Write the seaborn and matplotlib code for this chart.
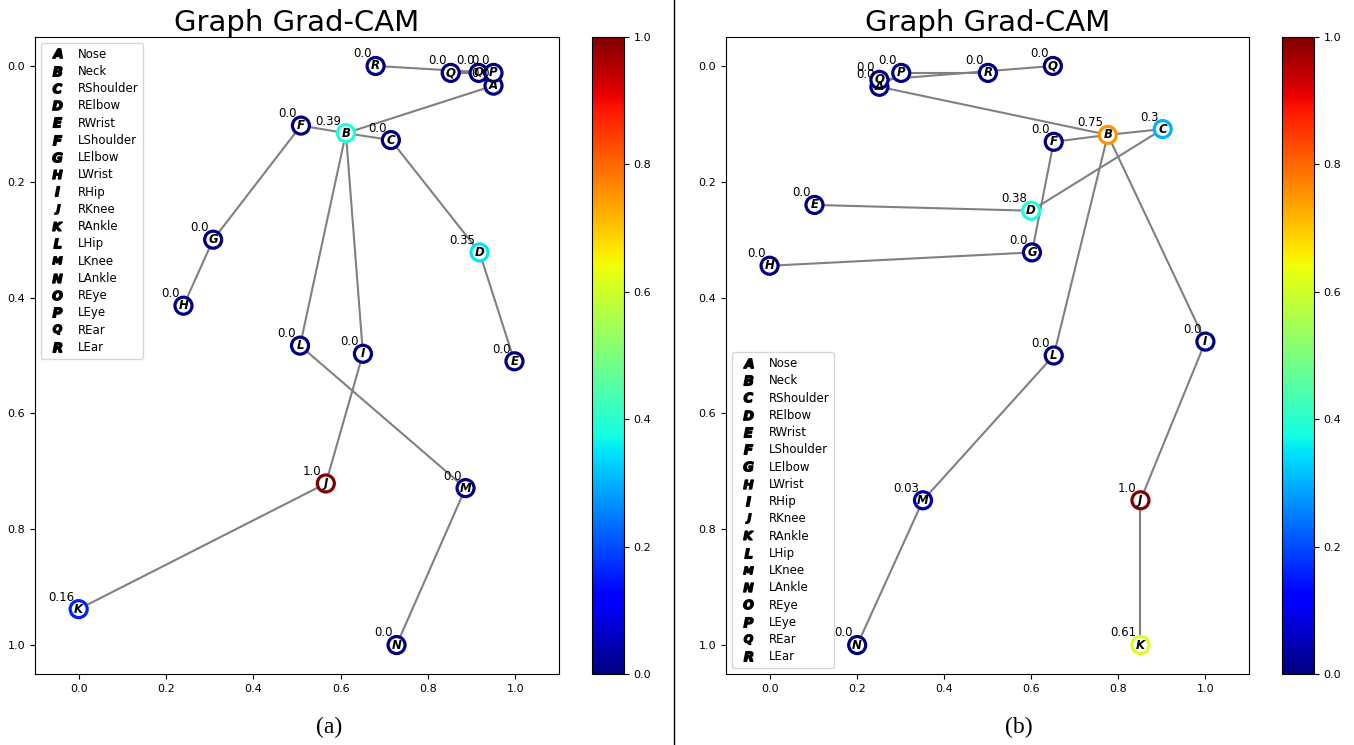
import matplotlib
matplotlib.use('Agg')
import matplotlib.pyplot as plt
from matplotlib.lines import Line2D
from matplotlib.cm import ScalarMappable
from matplotlib.colors import Normalize
import numpy as np
import seaborn as sns

letters = list('ABCDEFGHIJKLMNOPQR')
names = ['Nose', 'Neck', 'RShoulder', 'RElbow', 'RWrist', 'LShoulder', 'LElbow', 'LWrist',
         'RHip', 'RKnee', 'RAnkle', 'LHip', 'LKnee', 'LAnkle', 'REye', 'LEye', 'REar', 'LEar']

# openpose style skeleton (indices into letters)
edges = [(1, 2), (1, 5), (2, 3), (3, 4), (5, 6), (6, 7), (1, 8), (8, 9), (9, 10),
         (1, 11), (11, 12), (12, 13), (1, 0), (0, 14), (14, 16), (0, 15), (15, 17)]

# panel (a)
xa = [0.95, 0.612, 0.715, 0.918, 0.998, 0.509, 0.308, 0.24, 0.651, 0.566, 0.0, 0.507, 0.886, 0.728, 0.916, 0.95, 0.852, 0.68]
ya = [0.034, 0.116, 0.128, 0.322, 0.51, 0.103, 0.30, 0.414, 0.497, 0.721, 0.938, 0.483, 0.729, 1.0, 0.012, 0.012, 0.012, 0.0]
va = [0.0, 0.39, 0.0, 0.35, 0.0, 0.0, 0.0, 0.0, 0.0, 1.0, 0.16, 0.0, 0.0, 0.0, 0.0, 0.0, 0.0, 0.0]

# panel (b)
xb = [0.252, 0.776, 0.902, 0.600, 0.103, 0.652, 0.602, 0.0, 1.0, 0.851, 0.851, 0.652, 0.352, 0.201, 0.252, 0.302, 0.65, 0.501]
yb = [0.036, 0.119, 0.109, 0.250, 0.240, 0.131, 0.322, 0.345, 0.476, 0.75, 1.0, 0.5, 0.75, 1.0, 0.024, 0.012, 0.0, 0.012]
vb = [0.0, 0.75, 0.3, 0.38, 0.0, 0.0, 0.0, 0.0, 0.0, 1.0, 0.61, 0.0, 0.03, 0.0, 0.0, 0.0, 0.0, 0.0]

cmap = plt.get_cmap('jet')
norm = Normalize(0, 1)

W, H = 1354, 745
fig = plt.figure(figsize=(W / 100, H / 100), dpi=100)


def draw_panel(ax, cax, xs, ys, vals, legend_loc):
    for i, j in edges:
        ax.plot([xs[i], xs[j]], [ys[i], ys[j]], color='gray', lw=1.5, zorder=1)
    sns.scatterplot(x=xs, y=ys, color='white', edgecolor=[cmap(norm(v)) for v in vals],
                    linewidth=2.3, s=150, ax=ax, zorder=3, legend=False)
    for k in range(len(xs)):
        ax.text(xs[k], ys[k], letters[k], ha='center', va='center', fontsize=8.5,
                fontweight='bold', fontstyle='italic', zorder=4)
        ax.annotate(str(vals[k]), (xs[k], ys[k]), xytext=(-3, 4), textcoords='offset points',
                    ha='right', va='bottom', fontsize=8.5, zorder=5)
    ax.set_xlim(-0.1, 1.1)
    ax.set_ylim(1.05, -0.05)
    ax.set_xticks([0.0, 0.2, 0.4, 0.6, 0.8, 1.0])
    ax.set_yticks([0.0, 0.2, 0.4, 0.6, 0.8, 1.0])
    ax.tick_params(labelsize=8)
    ax.set_title('Graph Grad-CAM', fontsize=21, pad=4)
    handles = [Line2D([], [], marker='$\\mathbfit{%s}$' % l, ls='none', color='black', markersize=7)
               for l in letters]
    ax.legend(handles, names, loc=legend_loc, fontsize=8.5, labelspacing=0.36, handletextpad=0.7)
    cb = fig.colorbar(ScalarMappable(norm=norm, cmap=cmap), cax=cax)
    cb.set_ticks([0.0, 0.2, 0.4, 0.6, 0.8, 1.0])
    cb.ax.tick_params(labelsize=8)


bottom = 1 - 674 / H
height = (674 - 37) / H
ax1 = fig.add_axes([35 / W, bottom, 524 / W, height])
cax1 = fig.add_axes([592 / W, bottom, 32 / W, height])
ax2 = fig.add_axes([726 / W, bottom, 523 / W, height])
cax2 = fig.add_axes([1282 / W, bottom, 32 / W, height])

draw_panel(ax1, cax1, xa, ya, va, 'upper left')
draw_panel(ax2, cax2, xb, yb, vb, 'lower left')

fig.text(329 / W, 1 - 727 / H, '(a)', family='Liberation Serif', fontsize=17, ha='center', va='center')
fig.text(1019 / W, 1 - 727 / H, '(b)', family='Liberation Serif', fontsize=17, ha='center', va='center')
fig.add_artist(Line2D([674 / W, 674 / W], [0, 1], color='black', lw=1, transform=fig.transFigure))

fig.savefig('out.png', dpi=100)
